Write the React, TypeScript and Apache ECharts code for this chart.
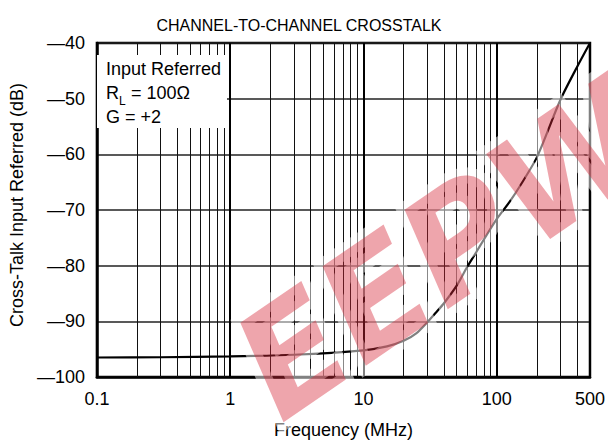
import React, { useEffect, useRef } from 'react';
import * as echarts from 'echarts';

// Curve (frequency in MHz, crosstalk in dB)
const freqMHz = [0.1, 0.3, 1, 3, 10, 15, 20, 25, 30, 35, 40, 50, 60, 70, 80, 100, 125, 150, 200, 300, 400, 500];
const crosstalkDb = [-96.5, -96.45, -96.3, -96.0, -95.2, -94.5, -93.5, -92.1, -90.2, -88.4, -86.8, -83.6, -80.2, -77.6, -75.3, -71.6, -68.5, -65.6, -60.5, -50.2, -44.3, -40];

// Minor vertical grid positions (log decades)
const minorFreqs = [0.2, 0.3, 0.4, 0.5, 0.6, 0.7, 0.8, 0.9, 2, 3, 4, 5, 6, 7, 8, 9, 20, 30, 40, 50, 60, 70, 80, 90, 200, 300, 400];

const yMin = -100;
const yMax = -40;
const yStep = 10;
const xMin = 0.1;
const xMax = 500;

const titleText = 'CHANNEL-TO-CHANNEL CROSSTALK';
const xName = 'Frequency (MHz)';
const yName = 'Cross-Talk Input Referred (dB)';
const noteLines = ['Input Referred', 'G = +2'];

const FONT = "'Liberation Sans', Arial, Helvetica, sans-serif";

export default function App() {
  const ref = useRef<HTMLDivElement>(null);

  useEffect(() => {
    if (!ref.current) return;
    const chart = echarts.init(ref.current, undefined, { renderer: 'svg' });
    const series: any[] = [
      {
        type: 'line',
        data: [],
        z: 1,
        silent: true,
        markLine: {
          silent: true,
          symbol: 'none',
          animation: false,
          label: { show: false },
          lineStyle: { color: '#111', width: 1, type: 'solid' },
          data: minorFreqs.map((f) => ({ xAxis: f })),
        },
      },
      {
        type: 'line',
        data: freqMHz.map((f, i) => [f, crosstalkDb[i]]),
        showSymbol: false,
        smooth: 0.25,
        z: 5,
        lineStyle: { color: '#000', width: 2.2 },
      },
    ];

    const wmBase = {
      text: 'EEPW',
      fontSize: 146,
      fontWeight: 'bold',
      fontStyle: 'italic',
      fontFamily: "'DejaVu Sans', sans-serif",
      align: 'center',
      verticalAlign: 'middle',
    };

    chart.setOption({
      animation: false,
      backgroundColor: '#fff',
      title: {
        text: titleText,
        left: 294,
        top: 12,
        textAlign: 'center',
        textStyle: { fontSize: 16, fontWeight: 'normal', color: '#000', fontFamily: FONT },
      },
      grid: {
        left: 95,
        right: 17,
        top: 43,
        bottom: 65,
        show: true,
        borderColor: '#000',
        borderWidth: 2.5,
        backgroundColor: 'transparent',
      },
      xAxis: {
        type: 'log',
        logBase: 10,
        min: xMin,
        max: xMax,
        name: xName,
        nameLocation: 'middle',
        nameGap: 44,
        nameTextStyle: { fontSize: 18, color: '#000', fontFamily: FONT },
        axisLine: { show: true, lineStyle: { color: '#000', width: 2.5 } },
        axisTick: { show: false },
        axisLabel: {
          fontSize: 18,
          color: '#000',
          fontFamily: FONT,
          margin: 13,
          formatter: (v: number) => (v < 1 ? v.toFixed(1) : String(Math.round(v))),
        },
        splitLine: { show: true, lineStyle: { color: '#000', width: 2 } },
      },
      yAxis: {
        type: 'value',
        min: yMin,
        max: yMax,
        interval: yStep,
        name: yName,
        nameLocation: 'middle',
        nameGap: 67,
        nameTextStyle: { fontSize: 18, color: '#000', fontFamily: FONT, padding: [0, 0, 0, 10] },
        axisLine: { show: true, lineStyle: { color: '#000', width: 2.5 } },
        axisTick: { show: false },
        axisLabel: {
          fontSize: 18,
          color: '#000',
          fontFamily: FONT,
          margin: 12,
          formatter: (v: number) => (v < 0 ? '\u2014' + Math.abs(v) : String(v)),
        },
        splitLine: { show: true, lineStyle: { color: '#222', width: 1.5 } },
      },
      series,
      graphic: [
        {
          type: 'rect',
          z: 10,
          shape: { x: 97, y: 55, width: 130, height: 73 },
          style: { fill: '#fff' },
        },
        {
          type: 'text',
          z: 11,
          x: 106,
          y: 69,
          style: { text: noteLines[0], fontSize: 18, fontFamily: FONT, fill: '#000', verticalAlign: 'middle' },
        },
        {
          type: 'text',
          z: 11,
          x: 106,
          y: 93,
          style: { text: 'R', fontSize: 18, fontFamily: FONT, fill: '#000', verticalAlign: 'middle' },
        },
        {
          type: 'text',
          z: 11,
          x: 119,
          y: 101,
          style: { text: 'L', fontSize: 12, fontFamily: FONT, fill: '#000', verticalAlign: 'middle' },
        },
        {
          type: 'text',
          z: 11,
          x: 126,
          y: 93,
          style: { text: ' = 100\u03A9', fontSize: 18, fontFamily: FONT, fill: '#000', verticalAlign: 'middle' },
        },
        {
          type: 'text',
          z: 11,
          x: 106,
          y: 117,
          style: { text: noteLines[1], fontSize: 18, fontFamily: FONT, fill: '#000', verticalAlign: 'middle' },
        },
        // watermark halo
        {
          type: 'text',
          z: 50,
          silent: true,
          x: 445,
          y: 250,
          rotation: 0.602,
          style: {
            ...wmBase,
            fill: 'rgba(255,255,255,0)',
            stroke: 'rgba(255,255,255,0.5)',
            lineWidth: 16,
          },
        },
        // watermark
        {
          type: 'text',
          z: 51,
          silent: true,
          x: 445,
          y: 250,
          rotation: 0.602,
          style: {
            ...wmBase,
            fill: 'rgba(214,40,57,0.42)',
          },
        },
      ],
    });
    return () => chart.dispose();
  }, []);

  return (
    <div
      ref={ref}
      style={{ position: 'fixed', left: 0, top: 0, width: 608, height: 444, background: '#fff' }}
    />
  );
}
